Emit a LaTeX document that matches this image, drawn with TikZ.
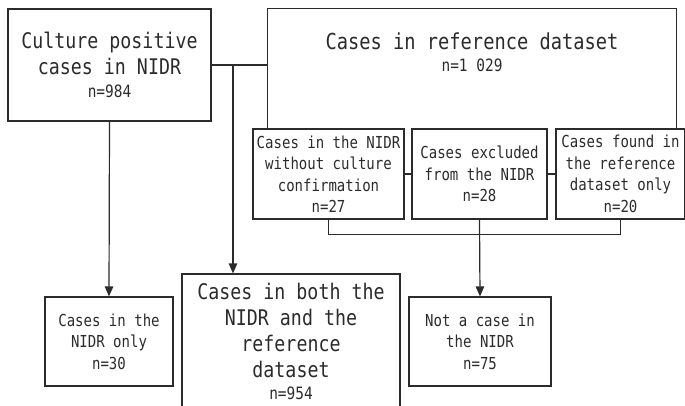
\documentclass[tikz,border=0pt]{standalone}
\usepackage{fontspec}
\setmonofont[FakeStretch=0.85]{DejaVu Sans Mono}
\usetikzlibrary{arrows.meta}
\definecolor{ink}{HTML}{2B2B2B}
\tikzset{
  flowbox/.style={draw=ink,line width=1.2pt,inner sep=0pt,align=center,text=ink,font=\ttfamily\fontsize{16.5}{21.5}\selectfont},
  bigtxt/.style={font=\ttfamily\fontsize{21.5}{26}\selectfont},
  flowline/.style={draw=ink,line width=1.2pt},
  flowarrow/.style={flowline,-{Triangle[length=10pt,width=8.5pt]}}
}
\newcommand{\cnt}[1]{{\fontsize{17}{21}\selectfont #1}}
\begin{document}
\begin{tikzpicture}[x=1pt,y=-1pt]
\useasboundingbox (0,0) rectangle (685,406);
\node[flowbox,bigtxt,minimum width=203pt,minimum height=112pt] (pos) at (109.5,65) {Culture positive\\cases in NIDR\\[-3pt]\cnt{n=984}};
\node[minimum width=408pt,minimum height=120pt,inner sep=0pt] (ref) at (472,69) {};
\draw[flowline] (ref.south west) |- (ref.north east) -- (ref.south east);
\node[anchor=north,inner sep=0pt,align=center,text=ink,font=\ttfamily\fontsize{22}{26}\selectfont] (reftxt) at (472,33) {Cases in reference dataset\\[-4pt]\cnt{n=1 029}};
\node[flowbox,minimum width=151pt,minimum height=90pt] (nocult) at (328.5,174) {Cases in the NIDR\\without culture\\confirmation\\n=27};
\node[flowbox,minimum width=135pt,minimum height=90pt] (excl) at (479.5,174) {Cases excluded\\from the NIDR\\n=28};
\node[flowbox,minimum width=129pt,minimum height=90pt] (refonly) at (620.5,174) {Cases found in\\the reference\\dataset only\\n=20};
\node[flowbox,minimum width=128pt,minimum height=89pt] (nidronly) at (109,341.5) {Cases in the\\NIDR only\\n=30};
\node[flowbox,bigtxt,minimum width=218pt,minimum height=134pt] (both) at (291,341) {Cases in both the\\NIDR and the\\reference\\dataset\\[-4pt]\cnt{n=954}};
\node[flowbox,minimum width=142pt,minimum height=89pt] (notcase) at (480,341.5) {Not a case in\\the NIDR\\n=75};
\coordinate (split) at (233,65);
\draw[flowline] (pos.east) -- (pos.east -| ref.west);
\draw[flowarrow] (split) -- (split |- both.north);
\draw[flowarrow] (pos.south) -- (nidronly.north);
\draw[flowline] (nocult.east) -- (excl.west) (excl.east) -- (refonly.west);
\draw[flowline] (nocult.south) -- ++(0,15) -| (refonly.south);
\draw[flowarrow] (excl.south) -- (notcase.north);
\end{tikzpicture}
\end{document}
